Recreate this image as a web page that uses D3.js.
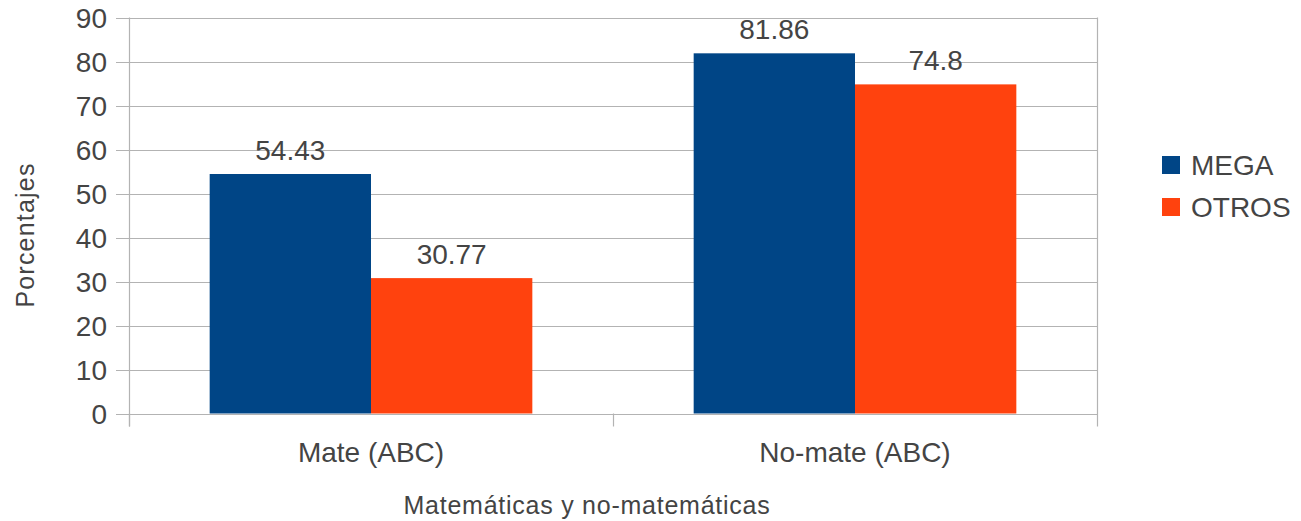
<!DOCTYPE html>
<html lang="es">
<head>
<meta charset="utf-8">
<title>Porcentajes MEGA / OTROS</title>
<script src="https://cdn.jsdelivr.net/npm/d3@7"></script>
<style>
  html, body { margin: 0; padding: 0; background: #fff; }
  body { width: 1301px; height: 521px; overflow: hidden; font-family: "Liberation Sans", Arial, sans-serif; }
  text { fill: #444; }
</style>
</head>
<body>
<div id="chart"></div>
<script>
// data
var categories = ["Mate (ABC)", "No-mate (ABC)"];
var seriesNames = ["MEGA", "OTROS"];
var mega = [54.43, 81.86];
var otros = [30.77, 74.8];
var yTicks = [0, 10, 20, 30, 40, 50, 60, 70, 80, 90];
var colors = ["#004586", "#ff420e"];

var w = 1301, h = 521;
var mLeft = 129, mRight = 1097, mTop = 17.5, mBottom = 413.5;

var svg = d3.select("#chart").append("svg")
  .attr("width", w).attr("height", h);

var x0 = d3.scaleBand().domain(categories).range([mLeft, mRight]).paddingInner(0).paddingOuter(0);
var x1 = d3.scaleBand().domain(seriesNames).range([0, x0.bandwidth()]).paddingOuter(0.5);
var y = d3.scaleLinear().domain([0, 90]).range([mBottom, mTop]);

// grid lines
svg.append("g").selectAll("line").data(yTicks).enter().append("line")
  .attr("x1", mLeft - 13).attr("x2", mRight)
  .attr("y1", function(d) { return Math.round(y(d)) + 0.5; })
  .attr("y2", function(d) { return Math.round(y(d)) + 0.5; })
  .attr("stroke", "#b3b3b3").attr("stroke-width", 1.2);

// y axis line
svg.append("line").attr("x1", mLeft + 0.5).attr("x2", mLeft + 0.5)
  .attr("y1", mTop).attr("y2", mBottom + 13)
  .attr("stroke", "#b3b3b3").attr("stroke-width", 1.2);

// x axis ticks (category boundaries), last one is the right border
var bounds = [mLeft, mLeft + x0.bandwidth(), mRight];
svg.append("g").selectAll("line").data(bounds).enter().append("line")
  .attr("x1", function(d) { return d + 0.5; }).attr("x2", function(d) { return d + 0.5; })
  .attr("y1", function(d, i) { return i === 2 ? mTop : mBottom; })
  .attr("y2", mBottom + 13)
  .attr("stroke", "#b3b3b3").attr("stroke-width", 1.2);

// y tick labels
svg.append("g").selectAll("text").data(yTicks).enter().append("text")
  .attr("x", 107).attr("y", function(d) { return y(d); })
  .attr("dy", "0.36em")
  .attr("text-anchor", "end")
  .attr("font-size", "28px")
  .text(function(d) { return d; });

// bars
var rows = categories.map(function(c, i) {
  return { cat: c, vals: [mega[i], otros[i]] };
});
var groups = svg.append("g").selectAll("g").data(rows).enter().append("g")
  .attr("transform", function(d) { return "translate(" + x0(d.cat) + ",0)"; });

groups.selectAll("rect").data(function(d) { return d.vals; }).enter().append("rect")
  .attr("x", function(d, i) { return x1(seriesNames[i]); })
  .attr("y", function(d) { return y(d); })
  .attr("width", x1.bandwidth())
  .attr("height", function(d) { return mBottom - y(d); })
  .attr("fill", function(d, i) { return colors[i]; });

groups.selectAll("text").data(function(d) { return d.vals; }).enter().append("text")
  .attr("x", function(d, i) { return x1(seriesNames[i]) + x1.bandwidth() / 2; })
  .attr("y", function(d) { return y(d) - 14; })
  .attr("text-anchor", "middle")
  .attr("font-size", "28px")
  .text(function(d) { return d; });

// category labels
svg.append("g").selectAll("text").data(categories).enter().append("text")
  .attr("x", function(d) { return x0(d) + x0.bandwidth() / 2; })
  .attr("y", 462)
  .attr("text-anchor", "middle")
  .attr("font-size", "28px")
  .text(function(d) { return d; });

// axis titles
svg.append("text")
  .attr("x", 587).attr("y", 514)
  .attr("text-anchor", "middle")
  .attr("font-size", "25px")
  .attr("letter-spacing", "0.75px")
  .text("Matemáticas y no-matemáticas");

svg.append("text")
  .attr("transform", "translate(34,235) rotate(-90)")
  .attr("text-anchor", "middle")
  .attr("font-size", "25px")
  .attr("letter-spacing", "1.2px")
  .text("Porcentajes");

// legend
var legend = svg.append("g").selectAll("g").data(seriesNames).enter().append("g")
  .attr("transform", function(d, i) { return "translate(1162," + (156 + i * 42) + ")"; });
legend.append("rect").attr("width", 18).attr("height", 18)
  .attr("fill", function(d, i) { return colors[i]; });
legend.append("text").attr("x", 29).attr("y", 9).attr("dy", "0.36em")
  .attr("font-size", "28px")
  .text(function(d) { return d; });
</script>
</body>
</html>
